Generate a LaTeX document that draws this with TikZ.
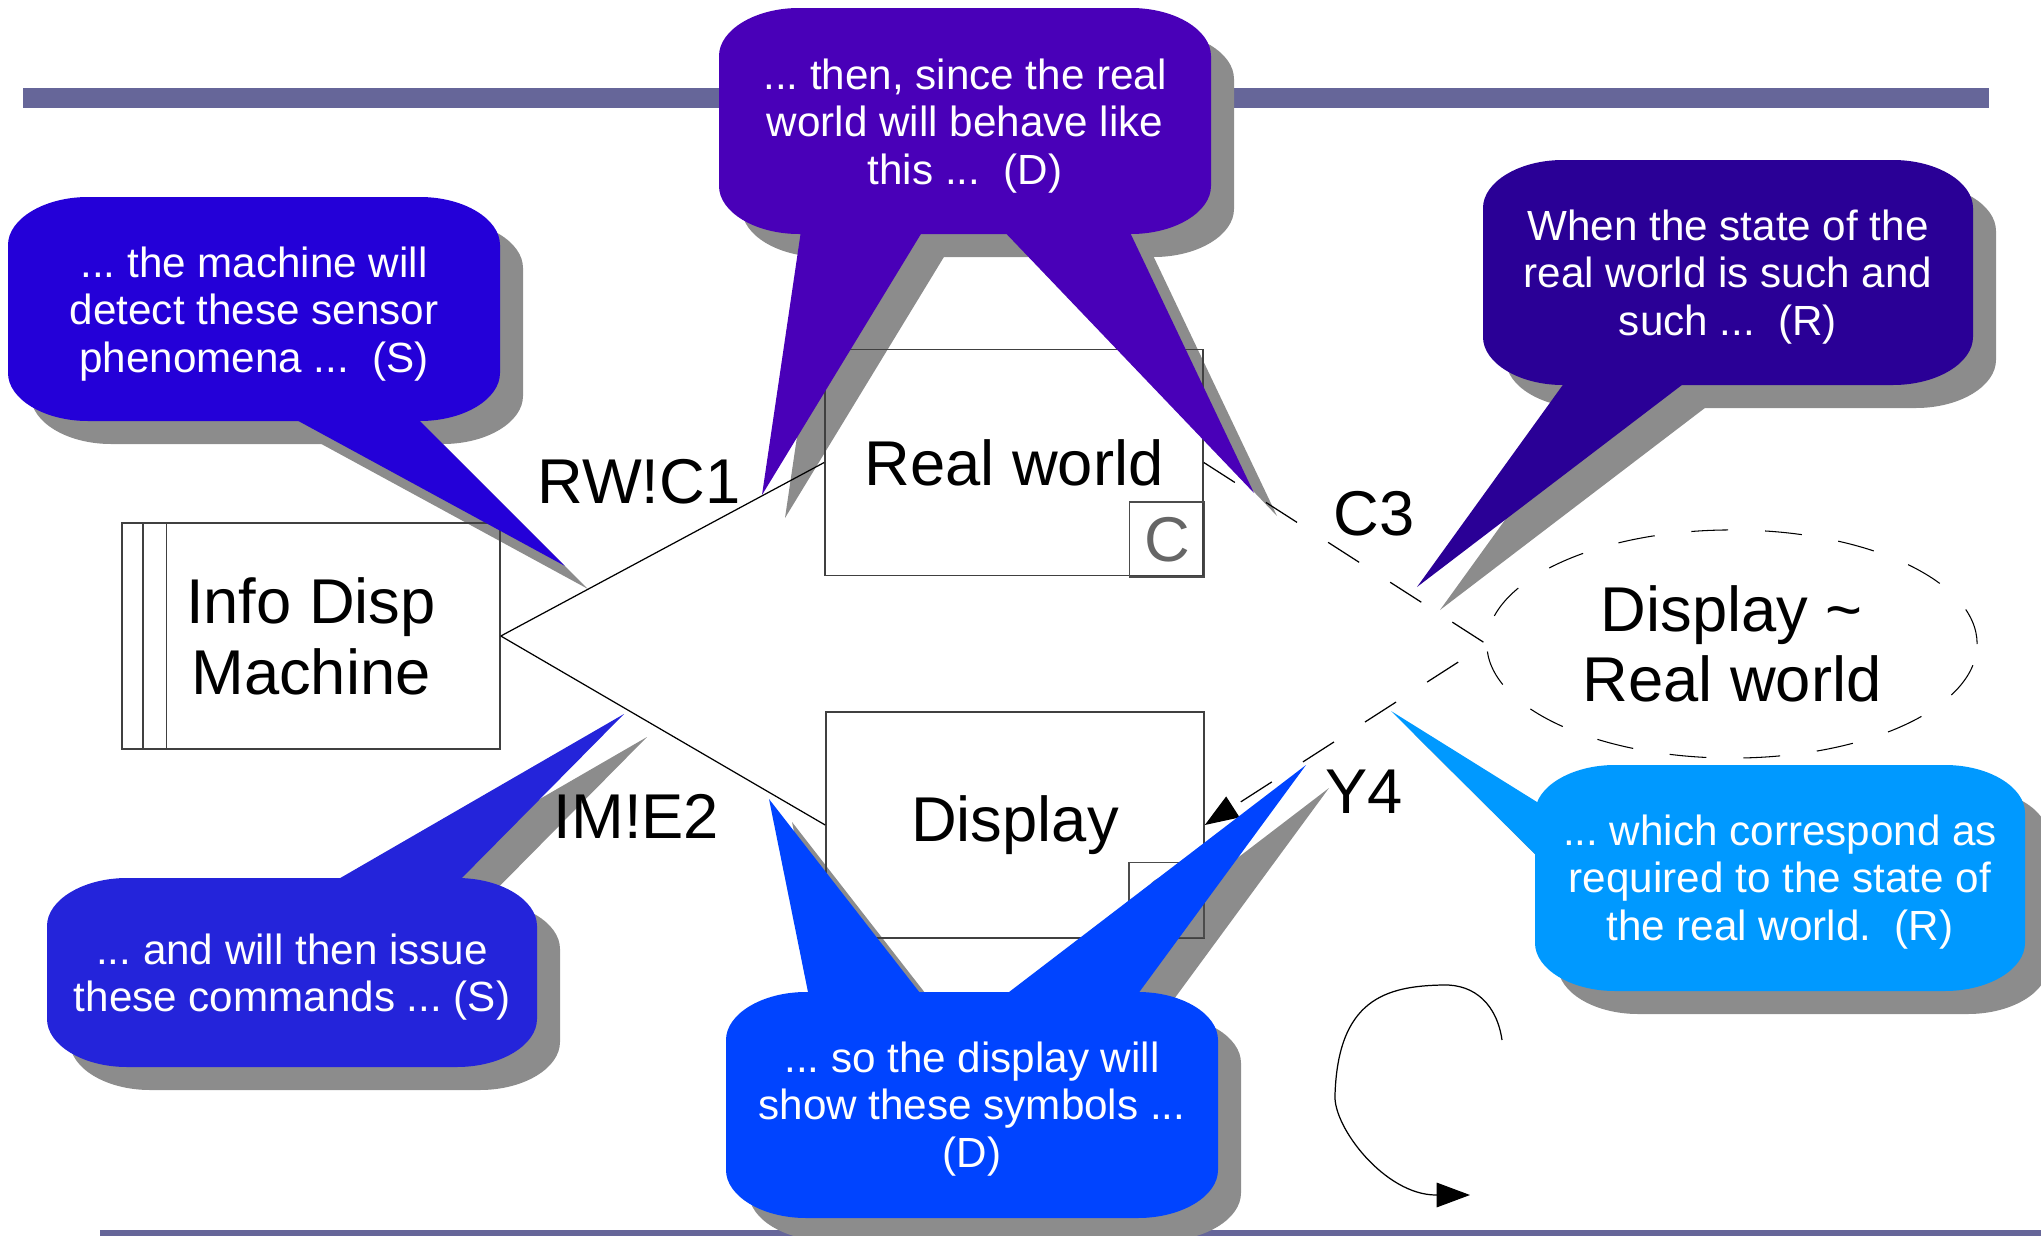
\documentclass[tikz,border=0pt]{standalone}
\usepackage{fontspec}
\setmainfont{Liberation Sans}
\usepackage{tikz}
\usetikzlibrary{shapes.geometric}
\usetikzlibrary{arrows.meta}
\frenchspacing
\pgfdeclarelayer{bars}
\pgfdeclarelayer{shadows}
\pgfsetlayers{bars,shadows,main}
\definecolor{barcol}{RGB}{102,102,153}
\definecolor{shadecol}{RGB}{140,140,140}
\definecolor{senseA}{RGB}{36,0,216}
\definecolor{worldB}{RGB}{73,0,184}
\definecolor{reqC}{RGB}{42,0,150}
\definecolor{corrD}{RGB}{0,153,255}
\definecolor{cmdE}{RGB}{36,36,218}
\definecolor{showF}{RGB}{0,68,255}
\newcommand{\bubble}[5]{\begin{pgfonlayer}{shadows}\fill[shadecol, shift={(23,23)}] ( #1 + 80 , #2 ) -- ( #3 - 80 , #2 ) .. controls ( #3 - 36 , #2 ) and ( #3 , #2 + 22 ) .. ( #3 , #2 + 48 ) -- ( #3 , #4 - 48 ) .. controls ( #3 , #4 - 22 ) and ( #3 - 36 , #4 ) .. ( #3 - 80 , #4 ) -- ( #1 + 80 , #4 ) .. controls ( #1 + 36 , #4 ) and ( #1 , #4 - 22 ) .. ( #1 , #4 - 48 ) -- ( #1 , #2 + 48 ) .. controls ( #1 , #2 + 22 ) and ( #1 + 36 , #2 ) .. cycle;\end{pgfonlayer} \fill[#5] ( #1 + 80 , #2 ) -- ( #3 - 80 , #2 ) .. controls ( #3 - 36 , #2 ) and ( #3 , #2 + 22 ) .. ( #3 , #2 + 48 ) -- ( #3 , #4 - 48 ) .. controls ( #3 , #4 - 22 ) and ( #3 - 36 , #4 ) .. ( #3 - 80 , #4 ) -- ( #1 + 80 , #4 ) .. controls ( #1 + 36 , #4 ) and ( #1 , #4 - 22 ) .. ( #1 , #4 - 48 ) -- ( #1 , #2 + 48 ) .. controls ( #1 , #2 + 22 ) and ( #1 + 36 , #2 ) .. cycle;}
\newcommand{\spike}[7]{\begin{pgfonlayer}{shadows}\fill[shadecol, shift={(23,23)}] ( #1 , #2 ) -- ( #5 , #6 ) -- ( #3 , #4 ) -- cycle;\end{pgfonlayer} \fill[#7] ( #1 , #2 ) -- ( #5 , #6 ) -- ( #3 , #4 ) -- cycle;}
\tikzset{
  domainbox/.style={draw=black!75, line width=0.4pt, minimum width=3.78cm, minimum height=2.26cm, inner sep=0pt, align=center, font=\fontsize{18}{20.2}\selectfont},
  subbox/.style={draw=black!70, line width=0.4pt, minimum size=0.75cm, inner sep=0pt, text=black!60, font=\fontsize{18}{20}\selectfont},
  reqoval/.style={ellipse, draw, line width=0.3pt, dash pattern=on 10.5pt off 10.5pt, minimum width=4.9cm, minimum height=2.28cm, inner sep=0pt, align=center, font=\fontsize{18}{19.8}\selectfont},
  iface/.style={draw, line width=0.35pt},
  reqline/.style={draw, line width=0.35pt, dash pattern=on 10.5pt off 10.5pt, -{Triangle[length=9.5pt,width=7pt]}},
  loopline/.style={draw, line width=0.35pt, -{Triangle[length=9.5pt,width=7pt]}},
  tag/.style={inner sep=0pt, font=\fontsize{18}{20}\selectfont},
  notetext/.style={text=white, align=center, inner sep=0pt, font=\fontsize{12}{13.6}\selectfont}
}
\begin{document}
\begin{tikzpicture}[x=0.01cm, y=-0.01cm]

        \useasboundingbox (0,0) rectangle (2041,1236);

        % bars
        \begin{pgfonlayer}{bars}
        \fill[barcol] (23,88) rectangle (1989,108);
        \fill[barcol] (100,1230) rectangle (2041,1236);
        \end{pgfonlayer}

        % domains
        \node[domainbox] (machine) at (311,636) {Info Disp\\Machine};
        \draw[draw=black!75, line width=0.4pt] ([xshift=0.22cm]machine.north west) -- ([xshift=0.22cm]machine.south west);
        \draw[draw=black!75, line width=0.4pt] ([xshift=0.45cm]machine.north west) -- ([xshift=0.45cm]machine.south west);
        \node[domainbox] (realworld) at (1014,462.5) {Real world};
        \node[subbox] (rwsub) at (1167,539.5) {C};
        \node[domainbox] (display) at (1015,825) {Display};
        \node[subbox] (dispsub) at (1166.5,900) {C};
        \node[reqoval] (corresp) at (1732,644) {Display \textasciitilde\\Real world};

        % interfaces
        \draw[iface] (machine.east) -- (realworld.west);
        \draw[iface] (machine.east) -- (display.west);
        \draw[reqline] (realworld.east) -- (corresp.west) -- (display.east);

        \node[tag, anchor=base east] (rwc) at (741,503) {RW!C1};
        \node[tag, anchor=base west] (ime) at (553,838) {IM!E2};
        \node[tag, anchor=base west] (cthree) at (1333,535) {C3};
        \node[tag, anchor=base west] (yfour) at (1325,813) {Y4};

        % loop
        \coordinate (loopstart) at (1502,1040);
        \coordinate (loopend) at (1470,1195);
        \draw[loopline] (loopstart) .. controls (1497,1005) and (1475,984) .. (1443,985) .. controls (1385,986) and (1338,1000) .. (1335,1095) .. controls (1333,1127) and (1385,1195) .. (1436,1195) -- (loopend);

        % callouts
        \bubble{8}{197}{500}{421}{senseA}
        \spike{280}{411}{410}{411}{565}{566}{senseA}
        \node[notetext] (sensenote) at (254,314) {... the machine will\\detect these sensor\\phenomena ...\ \ (S)};

        \bubble{719}{8}{1211}{234}{worldB}
        \spike{802}{224}{927}{224}{762}{495}{worldB}
        \spike{997}{224}{1126}{224}{1254}{493}{worldB}
        \node[notetext] (worldnote) at (965,126) {... then, since the real\\world will behave like\\this ...\ \ (D)};

        \bubble{1483}{160}{1973}{385}{reqC}
        \spike{1570}{375}{1695}{375}{1417}{587}{reqC}
        \node[notetext] (reqnote) at (1728,277) {When the state of the\\real world is such and\\such ...\ \ (R)};

        \bubble{1535}{765}{2025}{991}{corrD}
        \spike{1545}{807}{1545}{864}{1391}{711}{corrD}
        \node[notetext] (corrnote) at (1780,882) {... which correspond as\\required to the state of\\the real world.\ \ (R)};

        \bubble{47}{878}{537}{1067}{cmdE}
        \spike{323}{888}{452}{888}{624}{714}{cmdE}
        \node[notetext] (cmdnote) at (292,977) {... and will then issue\\these commands ... (S)};

        \bubble{726}{992}{1218}{1218}{showF}
        \spike{810}{1002}{927}{1002}{769}{799}{showF}
        \spike{996}{1002}{1132}{1002}{1306}{765}{showF}
        \node[notetext] (shownote) at (972,1109) {... so the display will\\show these symbols ...\\(D)};

\end{tikzpicture}
\end{document}
